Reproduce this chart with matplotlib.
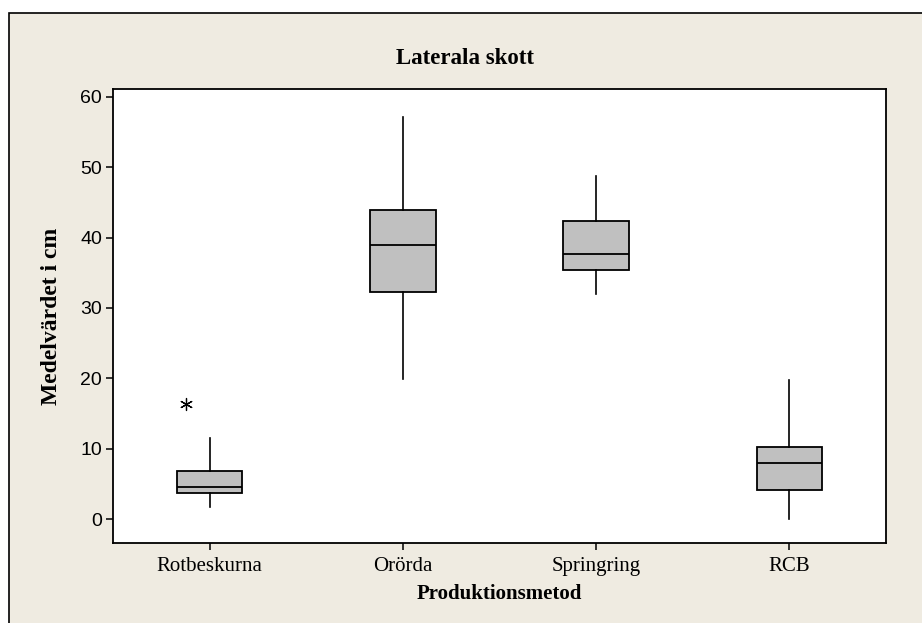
import matplotlib
matplotlib.use("Agg")
from matplotlib import pyplot as plt
from matplotlib.patches import Rectangle


methods = ["Rotbeskurna", "Orörda", "Springring", "RCB"]

whislo = [1.7, 19.9, 32.0, 0.0]
q1 = [3.7, 32.2, 35.4, 4.2]
median = [4.6, 38.9, 37.7, 7.9]
q3 = [6.9, 43.9, 42.3, 10.3]
whishi = [11.5, 57.1, 48.7, 19.8]

# outliers (category index, value)
outlier_group = [0]
outlier_value = [16.4]

BEIGE = "#efebe1"
SERIF = "Liberation Serif"
SANS = "Liberation Sans"

fig = plt.figure(figsize=(9.22, 6.23), dpi=100)
fig.patch.set_facecolor("white")
# the beige frame, cut off at the right and bottom like the screenshot
fig.patches.append(Rectangle((9 / 922, -0.1), 1.2, 1 - 13 / 623 + 0.1,
                             transform=fig.transFigure, facecolor=BEIGE,
                             edgecolor="black", linewidth=1.2, zorder=-10))

ax = fig.add_axes([113 / 922, 1 - 543 / 623, (886 - 113) / 922, (543 - 89) / 623])
ax.set_facecolor("white")

stats = []
for i, name in enumerate(methods):
    stats.append(dict(label=name, whislo=whislo[i], q1=q1[i], med=median[i],
                      q3=q3[i], whishi=whishi[i], fliers=[]))

positions = range(1, len(methods) + 1)
ax.bxp(stats, positions=positions, widths=0.34, patch_artist=True,
       showcaps=False, showfliers=False,
       boxprops=dict(facecolor="#c0c0c0", edgecolor="black", linewidth=1.3),
       medianprops=dict(color="black", linewidth=1.3),
       whiskerprops=dict(color="black", linewidth=1.2))

# Minitab nudges the outlier symbol to the left of the box
ax.scatter([positions[g] - 0.12 for g in outlier_group], outlier_value,
           marker=(6, 2, 0), s=75, color="black", linewidths=0.9, zorder=5)

ax.set_xlim(0.5, 4.5)
ax.set_ylim(-3.4, 61.1)
ax.set_yticks(range(0, 61, 10))
ax.set_xticks(list(positions))
ax.set_xticklabels(methods, fontfamily=SERIF, fontsize=15)
for lab in ax.get_yticklabels():
    lab.set_fontfamily(SANS)
    lab.set_fontsize(14)
ax.tick_params(direction="out", length=5, width=1.1, pad=3)
ax.tick_params(axis="x", pad=5)
ax.tick_params(top=False, right=False)
for sp in ax.spines.values():
    sp.set_linewidth(1.3)

ax.set_xlabel("Produktionsmetod", fontfamily=SERIF, fontweight="bold",
              fontsize=15, labelpad=6)
ax.set_ylabel("Medelvärdet i cm", fontfamily=SERIF, fontweight="bold",
              fontsize=17, labelpad=13)
fig.text(465 / 922, 1 - 58 / 623, "Laterala skott", ha="center", va="center",
         fontfamily=SERIF, fontweight="bold", fontsize=16.5)

fig.savefig("out.png", dpi=100)
